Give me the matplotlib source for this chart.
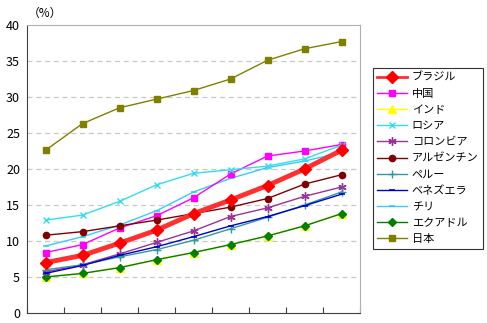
import matplotlib
matplotlib.use("Agg")
import matplotlib.pyplot as plt

plt.rcParams['font.family'] = ['Noto Sans CJK JP', 'DejaVu Sans']

x_labels = [''] * 9

brazil    = [7.0, 8.0, 9.7, 11.5, 13.8, 15.7, 17.7, 20.0, 22.6]
china     = [8.4, 9.5, 11.8, 13.5, 16.0, 19.3, 21.8, 22.5, 23.4]
india     = [5.0, 5.5, 6.3, 7.4, 8.4, 9.5, 10.7, 12.1, 13.8]
russia    = [12.9, 13.6, 15.5, 17.8, 19.4, 19.9, 20.4, 21.4, 23.3]
colombia  = [5.7, 6.7, 8.2, 9.8, 11.4, 13.4, 14.6, 16.2, 17.5]
argentina = [10.8, 11.3, 12.1, 12.9, 13.8, 14.7, 15.9, 17.9, 19.2]
peru      = [6.0, 6.7, 7.8, 8.8, 10.1, 11.7, 13.3, 15.0, 16.8]
venezuela = [5.5, 6.6, 8.0, 9.2, 10.6, 12.1, 13.4, 14.9, 16.5]
chile     = [9.3, 10.6, 12.2, 14.2, 16.8, 18.7, 20.2, 21.1, 22.3]
ecuador   = [5.0, 5.5, 6.3, 7.4, 8.4, 9.5, 10.7, 12.1, 13.8]
japan     = [22.6, 26.3, 28.5, 29.7, 30.9, 32.5, 35.1, 36.7, 37.7]

names = ['ブラジル', '中国', 'インド', 'ロシア', 'コロンビア', 'アルゼンチン',
         'ペルー', 'ベネズエラ', 'チリ', 'エクアドル', '日本']

fig = plt.figure(figsize=(4.87, 3.23), dpi=100)
ax = fig.add_axes([27/487, 1-313/323, (360-27)/487, (313-25)/323])

xs = list(range(len(x_labels)))

styles = [
    (brazil,    dict(color='#FF3030', lw=3.5, marker='D', ms=6.5, mfc='#FF0000', mec='#FF0000', zorder=5)),
    (china,     dict(color='#FF00FF', lw=1.0, marker='s', ms=5, mfc='#FF00FF', mec='#FF00FF', zorder=4)),
    (india,     dict(color='#FFFF00', lw=1.0, marker='^', ms=6, mfc='#FFFF00', mec='#FFFF00', zorder=2)),
    (russia,    dict(color='#33DDEE', lw=1.0, marker='x', ms=5, mew=1.0, zorder=4)),
    (colombia,  dict(color='#993399', lw=1.0, marker=(6, 2, 0), ms=6, mew=1.0, zorder=4)),
    (argentina, dict(color='#800000', lw=1.0, marker='o', ms=4.5, mfc='#800000', mec='#800000', zorder=4)),
    (peru,      dict(color='#339999', lw=1.0, marker='+', ms=6, mew=1.0, zorder=4)),
    (venezuela, dict(color='#0000CC', lw=1.0, marker='_', ms=5, mew=1.2, zorder=4)),
    (chile,     dict(color='#33CCFF', lw=1.0, marker='_', ms=5, mew=1.2, zorder=3)),
    (ecuador,   dict(color='#008000', lw=1.0, marker='D', ms=4.5, mfc='#008000', mec='#008000', zorder=3)),
    (japan,     dict(color='#808000', lw=1.0, marker='s', ms=5, mfc='#808000', mec='#808000', zorder=4)),
]

handles = []
for (vals, st), name in zip(styles, names):
    ln, = ax.plot(xs, vals, label=name, **st)
    handles.append(ln)

ax.set_xlim(-0.5, len(xs) - 0.5)
ax.set_ylim(0, 40)
ax.set_yticks(range(0, 41, 5))
ax.set_xticks([i - 0.5 for i in range(len(xs) + 1)])
ax.set_xticklabels([''] * (len(xs) + 1))
ax.tick_params(axis='x', direction='in', length=4, color='#404040')
ax.tick_params(axis='y', length=0, labelsize=9, pad=5)
for t in range(5, 40, 5):
    ax.axhline(t, color='#C8C8C8', lw=0.9, ls=(0, (4, 3)), zorder=0)

ax.spines['left'].set_color('#404040')
ax.spines['bottom'].set_color('#404040')
ax.spines['top'].set_color('#B0B0B0')
ax.spines['right'].set_color('#B0B0B0')

fig.text(28/487, 1-13/323, '（%）', fontsize=8.5, ha='left', va='center')

leg = ax.legend(handles=handles, loc='upper left', bbox_to_anchor=(373/487, 1-68/323),
                bbox_transform=fig.transFigure, frameon=True, fancybox=False,
                edgecolor='black', fontsize=8, handlelength=2.7, labelspacing=0.55,
                borderpad=0.4, handletextpad=0.4, borderaxespad=0)
leg.get_frame().set_linewidth(0.8)
for lh in leg.get_lines():
    if lh.get_linewidth() > 2:
        lh.set_linewidth(2.0)
        lh.set_markersize(6)

fig.savefig('out.png', dpi=100)
